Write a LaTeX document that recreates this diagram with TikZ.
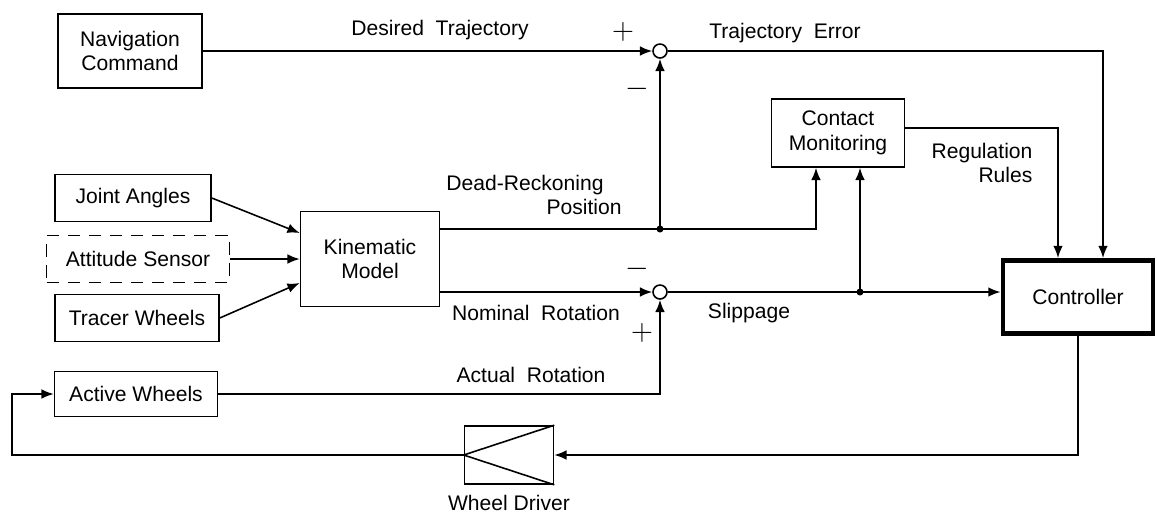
\documentclass[tikz,border=0pt]{standalone}
\usepackage{fontspec}
\setmainfont{Liberation Sans}
\usetikzlibrary{arrows.meta}

\begin{document}
\begin{tikzpicture}[x=0.02cm, y=-0.02cm, line width=0.9pt,
    >={Latex[length=7pt,width=5.5pt]},
    font=\fontsize{12}{14}\selectfont,
    blk/.style={draw, inner sep=0pt, align=center},
    sum/.style={draw, circle, fill=white, minimum size=0.28cm, inner sep=0pt},
    lbl/.style={inner sep=0pt}]
    \useasboundingbox (0,0) rectangle (1157,515);

    \node[blk, minimum width=2.88cm, minimum height=1.48cm] (nav) at (130,51) {Navigation\\Command};
    \node[blk, minimum width=3.12cm, minimum height=0.94cm] (joint) at (133,198) {Joint Angles};
    \node[blk, dashed, dash pattern=on 7pt off 5pt, minimum width=3.66cm, minimum height=0.94cm] (att) at (138,259) {Attitude Sensor};
    \node[blk, minimum width=3.28cm, minimum height=0.94cm] (tracer) at (137,318) {Tracer Wheels};
    \node[blk, minimum width=3.26cm, minimum height=0.90cm] (active) at (136,394) {Active Wheels};
    \node[blk, minimum width=2.78cm, minimum height=1.90cm] (kin) at (370,259) {Kinematic\\Model};
    \node[blk, minimum width=2.66cm, minimum height=1.36cm] (cm) at (838,133) {Contact\\Monitoring};
    \node[blk, line width=2.8pt, minimum width=3.0cm, minimum height=1.46cm] (ctrl) at (1078,297) {Controller};
    \node[blk, minimum width=1.78cm, minimum height=1.16cm] (drv) at (509,455) {};
    \node[sum] (sum1) at (660,51) {};
    \node[sum] (sum2) at (660,292) {};
    \coordinate (dr) at (660,229);
    \coordinate (slip) at (860,292);
    \coordinate (loop) at (12,455);

    \draw[->] (nav.east) -- (sum1.west);
    \draw[->] (joint.east) -- ([yshift=0.52cm]kin.west);
    \draw[->] (att.east) -- (kin.west);
    \draw[->] (tracer.east) -- ([yshift=-0.48cm]kin.west);
    \draw (kin.east |- dr) -- (dr);
    \draw[->] (dr) -- (sum1.south);
    \draw[->] (dr) -| ([xshift=-0.44cm]cm.south);
    \draw[->] (kin.east |- sum2) -- (sum2.west);
    \draw[->] (active.east) -| (sum2.south);
    \draw[->] (sum2.east) -- (sum2 -| ctrl.west);
    \draw[->] (slip) -- ([xshift=0.44cm]cm.south);
    \draw[->] (sum1.east) -| ([xshift=0.5cm]ctrl.north);
    \draw[->] ([yshift=0.1cm]cm.east) -| ([xshift=-0.4cm]ctrl.north);
    \draw[->] (ctrl.south) |- (drv.east);
    \draw[->] (drv.west) -- (loop) |- (active.west);
    \draw (drv.west) -- (drv.north east) (drv.west) -- (drv.south east);
    \fill (dr) circle (2pt);
    \fill (slip) circle (2pt);

    \node[lbl] (ldes) at (440,30) {Desired\ \ Trajectory};
    \node[lbl] (lerr) at (785,33) {Trajectory\ \ Error};
    \node[lbl, align=right] (ldr) at (534,195) {Dead-Reckoning\hspace*{0.36cm}\\Position};
    \node[lbl] (lnom) at (536,313) {Nominal\ \ Rotation};
    \node[lbl] (lact) at (531,375) {Actual\ \ Rotation};
    \node[lbl] (lslip) at (749,313) {Slippage};
    \node[lbl, align=right] (lreg) at (982,163) {Regulation\\Rules};
    \node[lbl, below=0.2cm] (ldrv) at (drv.south) {Wheel Driver};
    \node[lbl] (p1) at (623,32) {\LARGE $+$};
    \node[lbl] (m1) at (637,89) {\LARGE $-$};
    \node[lbl] (m2) at (637,269) {\LARGE $-$};
    \node[lbl] (p2) at (642,333) {\LARGE $+$};
\end{tikzpicture}
\end{document}
